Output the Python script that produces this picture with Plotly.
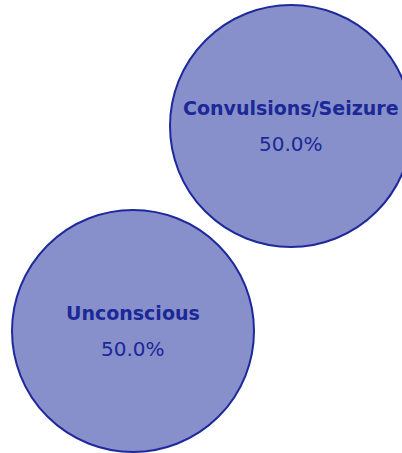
import plotly.graph_objects as go

categories = ["Convulsions/Seizure", "Unconscious"]
shares = [50.0, 50.0]
# packed-bubble layout positions (layout units)
pos_x = [291, 133]
pos_y = [126, 331]

fill = "rgb(136,144,204)"
edge = "rgb(30,42,155)"
txt = "rgb(27,40,150)"

fig = go.Figure()
fig.add_trace(go.Scatter(
    x=pos_x, y=pos_y, mode="markers",
    marker=dict(size=[242 for _ in shares], color=fill,
                line=dict(color=edge, width=2), opacity=1),
    hoverinfo="skip", showlegend=False, cliponaxis=True,
))

annotations = []
for c, s, x, y in zip(categories, shares, pos_x, pos_y):
    annotations.append(dict(x=x, y=y, text=f"<b>{c}</b>", showarrow=False,
                            xref="x", yref="y", yshift=18,
                            font=dict(family="DejaVu Sans", size=19, color=txt)))
    annotations.append(dict(x=x, y=y, text=f"{s:.1f}%", showarrow=False,
                            xref="x", yref="y", yshift=-18,
                            font=dict(family="DejaVu Sans", size=20, color=txt)))

fig.update_layout(
    width=402, height=453,
    margin=dict(l=0, r=0, t=0, b=0),
    paper_bgcolor="white", plot_bgcolor="white",
    xaxis=dict(range=[0, 402], visible=False, fixedrange=True),
    yaxis=dict(range=[453, 0], visible=False, fixedrange=True),
    annotations=annotations,
)
fig.write_html("out.html", config={"displayModeBar": False},
               post_script="document.body.style.margin='0';document.body.style.overflow='hidden';")
